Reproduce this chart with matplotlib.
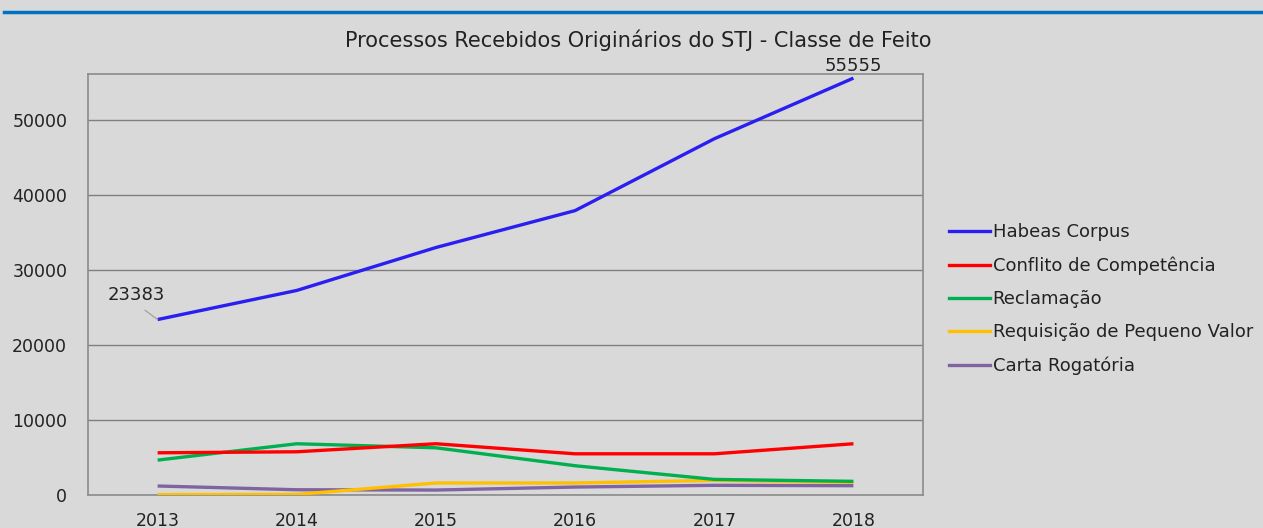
import matplotlib
matplotlib.use("Agg")
import matplotlib.pyplot as plt
from matplotlib.lines import Line2D

years = ["2013", "2014", "2015", "2016", "2017", "2018"]
habeas_corpus = [23383, 27260, 32980, 37900, 47470, 55555]
conflito = [5625, 5760, 6830, 5490, 5490, 6830]
reclamacao = [4650, 6830, 6290, 3900, 2080, 1820]
requisicao = [50, 80, 1600, 1600, 1950, 1690]
carta = [1200, 700, 660, 1060, 1290, 1240]

series_names = ["Habeas Corpus", "Conflito de Competência", "Reclamação",
                "Requisição de Pequeno Valor", "Carta Rogatória"]
series_values = [habeas_corpus, conflito, reclamacao, requisicao, carta]
colors = ["#2a1ff0", "#ff0000", "#00b050", "#ffc000", "#8064a2"]

bg = "#d9d9d9"
fig = plt.figure(figsize=(12.63, 5.28), dpi=100, facecolor=bg)
ax = fig.add_axes([0.0697, 0.0625, 0.6611, 0.7973], facecolor=bg)

x = list(range(len(years)))
for name, vals, c in reversed(list(zip(series_names, series_values, colors))):
    ax.plot(x, vals, color=c, lw=2.4, solid_capstyle="butt", zorder=3)

ax.set_xlim(-0.5, len(years) - 0.5)
ax.set_ylim(0, 56100)
ax.set_yticks([0, 10000, 20000, 30000, 40000, 50000])
ax.set_yticklabels(["0", "10000", "20000", "30000", "40000", "50000"])
ax.set_xticks(x)
ax.set_xticklabels(years)
ax.tick_params(axis="both", length=0, labelsize=12.5, colors="#222222")
ax.tick_params(axis="x", pad=12)
ax.tick_params(axis="y", pad=15)
ax.yaxis.grid(True, color="#7f7f7f", lw=1)
ax.set_axisbelow(True)
for s in ax.spines.values():
    s.set_color("#8c8c8c")
    s.set_linewidth(1.2)

fig.text(0.505, 0.924, "Processos Recebidos Originários do STJ - Classe de Feito",
         fontsize=15, color="#222222", ha="center", va="center")

# data labels
ax.annotate(str(habeas_corpus[0]), xy=(x[0], habeas_corpus[0]),
            xytext=(-15, 17.5), textcoords="offset points", fontsize=13,
            color="#222222", ha="center", va="center",
            arrowprops=dict(arrowstyle="-", color="#a6a6a6", lw=1,
                            shrinkA=4, shrinkB=0, relpos=(0.5, 0)))
ax.annotate(str(habeas_corpus[-1]), xy=(x[-1], habeas_corpus[-1]),
            xytext=(0, 8.5), textcoords="offset points", fontsize=13,
            color="#222222", ha="center", va="center", annotation_clip=False)

handles = [Line2D([0], [0], color=c, lw=2.4) for c in colors]
fig.legend(handles, series_names, loc="upper left",
           bbox_to_anchor=(0.751, 0.577), frameon=False, fontsize=13,
           handlelength=2.3, handletextpad=0.15, labelspacing=0.84,
           labelcolor="#222222", borderaxespad=0, borderpad=0)

# top blue rule
fig.add_artist(Line2D([0.003, 1.0], [0.977, 0.977], color="#0070c0", lw=2.5,
                      transform=fig.transFigure))

fig.savefig("out.png", dpi=100, facecolor=bg)
